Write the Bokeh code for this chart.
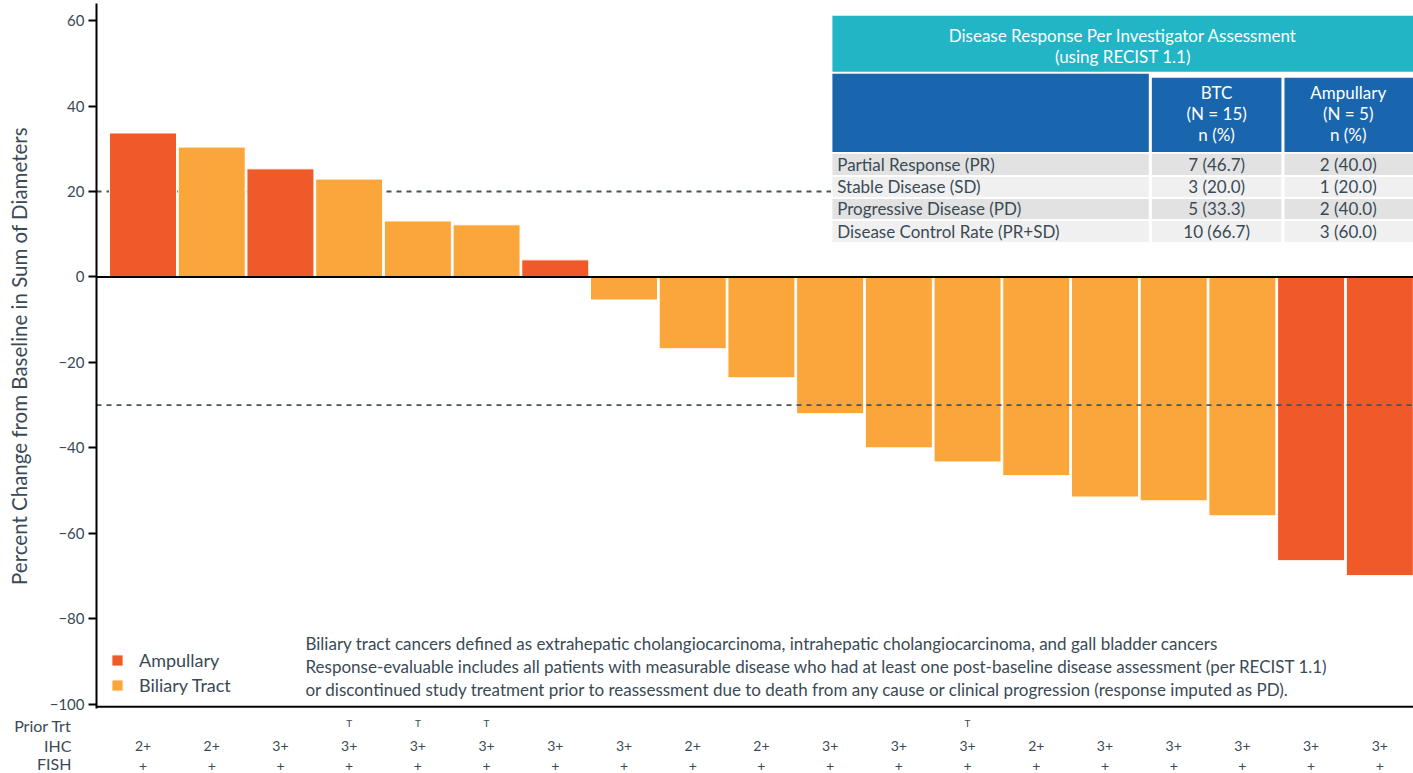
from bokeh.plotting import figure
from bokeh.models import ColumnDataSource, Range1d, FixedTicker
from bokeh.layouts import column
from bokeh.transform import factor_cmap
from bokeh.embed import file_html
from bokeh.resources import INLINE
from bokeh.core.properties import value

# ---------------- data ----------------
patients = list(range(1, 20))
pct_change = [33.7, 30.4, 25.3, 22.9, 13.1, 12.2, 4.0, -5.4, -16.8, -23.6,
              -32.0, -40.0, -43.3, -46.5, -51.5, -52.4, -55.9, -66.4, -69.9]
tumor_type = ["Ampullary", "Biliary Tract", "Ampullary", "Biliary Tract", "Biliary Tract",
              "Biliary Tract", "Ampullary", "Biliary Tract", "Biliary Tract", "Biliary Tract",
              "Biliary Tract", "Biliary Tract", "Biliary Tract", "Biliary Tract", "Biliary Tract",
              "Biliary Tract", "Biliary Tract", "Ampullary", "Ampullary"]
prior_trt = ["", "", "", "T", "T", "T", "", "", "", "", "", "", "T", "", "", "", "", "", ""]
ihc = ["2+", "2+", "3+", "3+", "3+", "3+", "3+", "3+", "2+", "2+",
       "3+", "3+", "3+", "2+", "3+", "3+", "3+", "3+", "3+"]
fish = ["+"] * 19
type_factors = ["Ampullary", "Biliary Tract"]
y_ticks = [-100, -80, -60, -40, -20, 0, 20, 40, 60]
pd_threshold = 20
pr_threshold = -30
row_names = ["Prior Trt", "IHC", "FISH"]

table_title = ["Disease Response Per Investigator Assessment", "(using RECIST 1.1)"]
btc_header = ["BTC", "(N = 15)", "n (%)"]
amp_header = ["Ampullary", "(N = 5)", "n (%)"]
row_labels = ["Partial Response (PR)", "Stable Disease (SD)",
              "Progressive Disease (PD)", "Disease Control Rate (PR+SD)"]
btc_vals = ["7 (46.7)", "3 (20.0)", "5 (33.3)", "10 (66.7)"]
amp_vals = ["2 (40.0)", "1 (20.0)", "2 (40.0)", "3 (60.0)"]
footnotes = [
    "Biliary tract cancers defined as extrahepatic cholangiocarcinoma, intrahepatic cholangiocarcinoma, and gall bladder cancers",
    "Response-evaluable includes all patients with measurable disease who had at least one post-baseline disease assessment (per RECIST 1.1)",
    "or discontinued study treatment prior to reassessment due to death from any cause or clinical progression (response imputed as PD).",
]

# ---------------- style ----------------
FONT = "Lato"
RED = "#F05A28"
ORANGE = "#FBA63A"
TEAL = "#22B5C6"
BLUE = "#1A66AE"
GRAY1 = "#E2E2E2"
GRAY2 = "#F0F0F0"
TXT = "#3A4A55"

x_range = Range1d(0.323, 19.49)

p = figure(width=1413, height=715, x_range=x_range, y_range=Range1d(-101, 64),
           output_backend="svg", toolbar_location=None,
           min_border_left=96, min_border_right=0, min_border_top=3, min_border_bottom=7)
p.outline_line_color = None
p.xgrid.visible = False
p.ygrid.visible = False
p.xaxis.visible = False

ax = p.yaxis[0]
ax.ticker = FixedTicker(ticks=y_ticks)
ax.minor_tick_line_color = None
ax.major_tick_in = 0
ax.major_tick_out = 8
ax.major_tick_line_width = 2
ax.axis_line_width = 2
ax.axis_line_color = "black"
ax.major_tick_line_color = "black"
ax.major_label_text_font = FONT
ax.major_label_text_font_size = "15px"
ax.major_label_text_color = TXT
ax.major_label_standoff = 4
ax.axis_label = "Percent Change from Baseline in Sum of Diameters"
ax.axis_label_text_font = FONT
ax.axis_label_text_font_size = "20.5px"
ax.axis_label_text_font_style = "normal"
ax.axis_label_text_color = TXT
ax.axis_label_standoff = 16

# dashed PD threshold (behind bars)
p.segment(x0=[x_range.start], x1=[x_range.end], y0=[pd_threshold], y1=[pd_threshold],
          line_color="#46555F", line_width=1.8, line_dash="5 5")

src = ColumnDataSource(dict(x=patients, top=pct_change, type=tumor_type))
p.vbar(x="x", top="top", bottom=0, width=0.975, source=src,
       fill_color=factor_cmap("type", palette=[RED, ORANGE], factors=type_factors),
       line_color="white", line_width=1, legend_field="type")

# dashed PR threshold (above bars)
p.segment(x0=[x_range.start], x1=[x_range.end], y0=[pr_threshold], y1=[pr_threshold],
          line_color="#46555F", line_width=1.8, line_dash="5 5")
# zero line and bottom line
p.segment(x0=[x_range.start, x_range.start], x1=[x_range.end, x_range.end],
          y0=[0, -100.6], y1=[0, -100.6], line_color="black", line_width=2)

lg = p.legend[0]
lg.location = (14, 12)
lg.background_fill_alpha = 0
lg.border_line_color = None
lg.glyph_width = 14
lg.glyph_height = 14
lg.label_standoff = 15
lg.label_text_font = FONT
lg.label_text_font_size = "18px"
lg.label_text_color = TXT
lg.spacing = 3
lg.margin = 0
lg.padding = 5

# footnotes
p.text(x=[3.364] * 3, y=[-85.7, -91.1, -96.5], text=footnotes,
       text_font=value(FONT), text_font_size="17px", text_color=TXT,
       text_align="left", text_baseline="middle")

# ---------------- table ----------------
TL, TC1, TC2, TR = 11.033, 15.66, 17.59, 19.49
gap = 0.022
# white backing
p.quad(left=[TL - 0.02], right=[TR], top=[61.4], bottom=[8.0], fill_color="white", line_color=None)
# title band
p.quad(left=[TL], right=[TR], top=[61.12], bottom=[48.0], fill_color=TEAL, line_color=None)
# header cells
p.quad(left=[TL, TC1 + gap, TC2 + gap], right=[TC1 - gap, TC2 - gap, TR],
       top=[47.54, 46.6, 46.6], bottom=[29.27, 29.27, 29.27], fill_color=BLUE, line_color=None)
# body rows
row_tops = [28.81, 23.42, 18.27, 13.11]
row_bots = [23.89, 18.74, 13.58, 8.20]
row_cols = [GRAY1, GRAY2, GRAY1, GRAY2]
lefts, rights, tops, bots, cols = [], [], [], [], []
for t, b, c in zip(row_tops, row_bots, row_cols):
    for l, r in [(TL, TC1 - gap), (TC1 + gap, TC2 - gap), (TC2 + gap, TR)]:
        lefts.append(l); rights.append(r); tops.append(t); bots.append(b); cols.append(c)
p.quad(left=lefts, right=rights, top=tops, bottom=bots, fill_color=cols, line_color=None)

TFS = "17px"
title_x = (TL + TR) / 2
p.text(x=[title_x, title_x], y=[56.4, 51.5], text=table_title, text_font=value(FONT),
       text_font_size=TFS, text_color="white", text_align="center", text_baseline="middle")
head_y = [43.1, 38.2, 33.3]
btc_x = (TC1 + TC2) / 2
amp_x = (TC2 + TR) / 2
p.text(x=[btc_x] * 3 + [amp_x] * 3, y=head_y + head_y, text=btc_header + amp_header,
       text_font=value(FONT), text_font_size=TFS, text_color="white",
       text_align="center", text_baseline="middle")
row_y = [(t + b) / 2 for t, b in zip(row_tops, row_bots)]
p.text(x=[TL + 0.07] * 4, y=row_y, text=row_labels, text_font=value(FONT),
       text_font_size=TFS, text_color=TXT, text_align="left", text_baseline="middle")
p.text(x=[btc_x] * 4 + [amp_x] * 4, y=row_y + row_y, text=btc_vals + amp_vals,
       text_font=value(FONT), text_font_size=TFS, text_color=TXT,
       text_align="center", text_baseline="middle")

# ---------------- annotation rows below ----------------
row_pos = [-7, -30, -50]
q = figure(width=1413, height=57, x_range=x_range, y_range=Range1d(-57, 0),
           output_backend="svg", toolbar_location=None,
           min_border_left=96, min_border_right=0, min_border_top=0, min_border_bottom=0)
q.outline_line_color = None
q.xgrid.visible = False
q.ygrid.visible = False
q.xaxis.visible = False
qa = q.yaxis[0]
qa.ticker = FixedTicker(ticks=row_pos)
qa.major_label_overrides = {row_pos[i]: row_names[i] for i in range(3)}
qa.axis_line_color = None
qa.major_tick_line_color = None
qa.minor_tick_line_color = None
qa.major_label_standoff = 19
qa.major_label_text_font = FONT
qa.major_label_text_font_size = "16px"
qa.major_label_text_color = TXT

q.text(x=patients, y=[row_pos[0]] * 19, text=prior_trt, text_font=value(FONT),
       text_font_size="10px", text_color=TXT, text_align="center", text_baseline="middle")
q.text(x=patients, y=[row_pos[1]] * 19, text=ihc, text_font=value(FONT),
       text_font_size="14px", text_color=TXT, text_align="center", text_baseline="middle")
q.text(x=patients, y=[row_pos[2]] * 19, text=fish, text_font=value(FONT),
       text_font_size="14px", text_color=TXT, text_align="center", text_baseline="middle")

layout = column(p, q, spacing=0)
open("out.html", "w").write(file_html(layout, INLINE))
